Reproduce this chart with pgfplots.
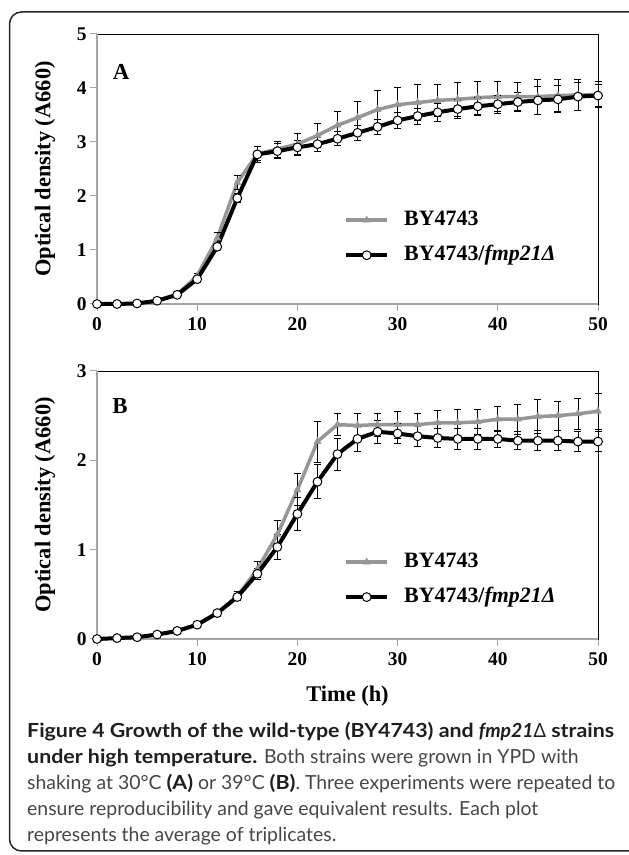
\documentclass[border=0pt]{standalone}
\usepackage{fontspec}
\setmainfont{Liberation Serif}
\newfontfamily\capfont{Lato}[BoldFeatures={FakeStretch=1.1}]
\newfontfamily\deltafont{Noto Sans}
\usepackage{pgfplots}
\usepackage{pgfplotstable}
\pgfplotsset{compat=1.18}

\definecolor{wtgray}{RGB}{150,150,150}
\definecolor{axgray}{RGB}{165,165,165}
\definecolor{capbody}{RGB}{70,70,70}
\definecolor{caphead}{RGB}{30,30,30}

% panel A: 30 C
\pgfplotstableread{
t   wt    wterr  mut   muterr
0   0.00  0.00   0.00  0.00
2   0.00  0.00   0.00  0.00
4   0.01  0.00   0.01  0.00
6   0.06  0.01   0.06  0.01
8   0.18  0.02   0.17  0.02
10  0.52  0.05   0.46  0.04
12  1.22  0.10   1.06  0.05
14  2.25  0.13   1.96  0.08
16  2.78  0.13   2.77  0.14
18  2.87  0.15   2.83  0.14
20  2.96  0.20   2.90  0.13
22  3.12  0.22   2.96  0.13
24  3.31  0.26   3.06  0.13
26  3.45  0.31   3.17  0.14
28  3.60  0.36   3.28  0.14
30  3.69  0.33   3.40  0.15
32  3.73  0.33   3.48  0.15
34  3.77  0.30   3.55  0.16
36  3.79  0.31   3.61  0.18
38  3.82  0.31   3.66  0.16
40  3.84  0.28   3.70  0.17
42  3.84  0.26   3.74  0.17
44  3.84  0.32   3.77  0.26
46  3.86  0.29   3.79  0.25
48  3.87  0.28   3.84  0.26
50  3.88  0.24   3.86  0.21
}\growthA

% panel B: 39 C
\pgfplotstableread{
t   wt    wterr  mut   muterr
0   0.00  0.00   0.00  0.00
2   0.01  0.00   0.01  0.00
4   0.02  0.00   0.02  0.00
6   0.05  0.01   0.05  0.01
8   0.09  0.01   0.09  0.01
10  0.16  0.02   0.16  0.02
12  0.29  0.03   0.29  0.03
14  0.48  0.05   0.47  0.04
16  0.78  0.09   0.73  0.06
18  1.17  0.16   1.03  0.14
20  1.67  0.18   1.40  0.18
22  2.21  0.23   1.76  0.19
24  2.40  0.12   2.07  0.18
26  2.39  0.14   2.24  0.14
28  2.40  0.13   2.32  0.13
30  2.40  0.15   2.30  0.11
32  2.40  0.13   2.27  0.11
34  2.42  0.14   2.25  0.11
36  2.42  0.15   2.24  0.12
38  2.43  0.14   2.24  0.12
40  2.46  0.14   2.24  0.10
42  2.46  0.17   2.22  0.10
44  2.49  0.19   2.22  0.11
46  2.50  0.16   2.22  0.11
48  2.52  0.17   2.21  0.11
50  2.55  0.20   2.21  0.11
}\growthB

\pgfplotsset{
  panel/.style={
    scale only axis, width=501bp,
    xmin=0, xmax=50, xtick={0,10,20,30,40,50},
    clip=false,
    axis line style={black, line width=0.9bp},
    tick align=outside, tick pos=left,
    major tick length=7bp,
    every tick/.append style={axgray, line width=1bp},
    tick label style={font=\bfseries\fontsize{19.5}{19.5}\selectfont},
    xticklabel style={yshift=-3bp},
    /pgf/number format/assume math mode=true,
    every axis y label/.style={at={(axis description cs:-0.1038,0.5)}, rotate=90,
      anchor=center, font=\bfseries\fontsize{22.5}{22.5}\selectfont},
    ylabel={Optical density (A660)},
    legend cell align=left,
    legend style={draw=none, fill=none, inner sep=0pt, anchor=north west,
      font=\bfseries\fontsize{22}{22}\selectfont,
      nodes={inner sep=0pt, text height=15bp, text depth=5bp},
      row sep=15bp, column sep=15bp},
    legend image code/.code={\draw[mark repeat=2,mark phase=2,##1]
      plot coordinates {(0bp,0bp) (20.5bp,0bp) (41bp,0bp)};},
  },
  wt/.style={wtgray, line width=3.5bp, mark=triangle*, mark size=4bp,
    mark options={solid, fill=wtgray, draw=wtgray, line width=0.5bp}},
  mut/.style={black, line width=4bp, mark=*, mark size=4.4bp,
    mark options={solid, fill=white, draw=black, line width=1bp}},
  bars/.style={error bars/.cd, y dir=both, y explicit,
    error bar style={black, line width=0.8bp},
    error mark options={rotate=90, black, mark size=3.5bp, line width=0.8bp}},
}

\begin{document}
\begin{tikzpicture}[x=1bp, y=1bp]
\useasboundingbox (0,0) rectangle (629,855);
\begin{scope}
\clip (0,0) rectangle (629,855);
\draw[line width=1.5bp, black!85, rounded corners=12bp]
  (660,843) -- (9.5,843) -- (9.5,4) -- (660,4);
\end{scope}

\begin{axis}[panel, at={(97bp,551bp)}, anchor=south west, height=270bp,
  ymin=0, ymax=5, ytick={0,1,2,3,4,5},
  legend style={at={(0.493,0.348)}}]
\draw[axgray, line width=1.3bp] (rel axis cs:0,1) -- (rel axis cs:0,0) -- (rel axis cs:1,0);
\addplot[wt, bars] table[x=t, y=wt, y error=wterr] {\growthA};
\addlegendentry{BY4743}
\addplot[mut, bars] table[x=t, y=mut, y error=muterr] {\growthA};
\addlegendentry{BY4743/\textit{fmp21Δ}}
\node[font=\bfseries\fontsize{23}{23}\selectfont] at (axis cs:2.4,4.3) {A};
\end{axis}

\begin{axis}[panel, at={(97bp,216bp)}, anchor=south west, height=268bp,
  ymin=0, ymax=3, ytick={0,1,2,3},
  xlabel={Time (h)},
  every axis x label/.style={at={(axis description cs:0.5,0)}, yshift=-57bp,
    anchor=center, font=\bfseries\fontsize{22.5}{22.5}\selectfont},
  legend style={at={(0.493,0.325)}}]
\draw[axgray, line width=1.3bp] (rel axis cs:0,1) -- (rel axis cs:0,0) -- (rel axis cs:1,0);
\addplot[wt, bars] table[x=t, y=wt, y error=wterr] {\growthB};
\addlegendentry{BY4743}
\addplot[mut, bars] table[x=t, y=mut, y error=muterr] {\growthB};
\addlegendentry{BY4743/\textit{fmp21Δ}}
\node[font=\bfseries\fontsize{23}{23}\selectfont] at (axis cs:2.3,2.61) {B};
\end{axis}

\begin{scope}[every node/.style={anchor=base west, inner sep=0pt, text=capbody,
    font=\capfont\fontsize{19.5}{19.5}\selectfont}]
\node at (27,117) {\textcolor{caphead}{\bfseries Figure 4 Growth of the wild-type (BY4743) and \textit{fmp21}{\deltafont\bfseries Δ} strains}};
\node at (27,91) {\textcolor{caphead}{\bfseries under high temperature.} Both strains were grown in YPD with};
\node at (27,65) {shaking at 30°C \textcolor{caphead}{\bfseries (A)} or 39°C \textcolor{caphead}{\bfseries (B)}. Three experiments were repeated to};
\node at (27,39) {ensure reproducibility and gave equivalent results. Each plot};
\node at (27,13) {represents the average of triplicates.};
\end{scope}
\end{tikzpicture}
\end{document}
